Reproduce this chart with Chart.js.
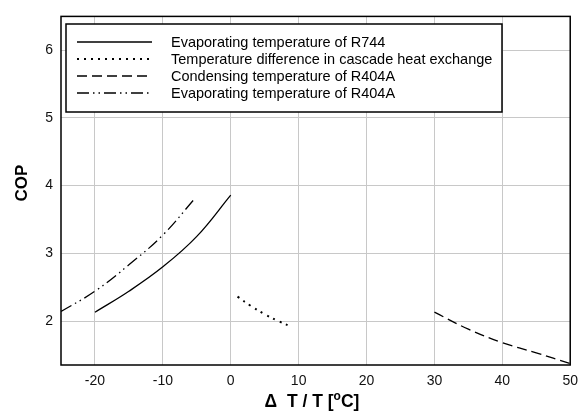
<!DOCTYPE html>
<html>
<head>
<meta charset="utf-8">
<script src="https://cdn.jsdelivr.net/npm/chart.js@4.4.0/dist/chart.umd.min.js"></script>
<style>
  html, body { margin: 0; padding: 0; background: #fff; }
  #wrap { width: 586px; height: 419px; }
</style>
</head>
<body>
<div id="wrap"><canvas id="c" width="586" height="419"></canvas></div>
<script>
// data
const r744EvapX = [-20, -15, -10, -5, 0]
const r744EvapY = [2.13, 2.44, 2.80, 3.25, 3.86]
const cascadeX = [1, 3, 5, 7, 9]
const cascadeY = [2.36, 2.22, 2.10, 2.00, 1.91]
const r404CondX = [30, 35, 40, 45, 50]
const r404CondY = [2.13, 1.88, 1.68, 1.53, 1.37]
const r404EvapX = [-25, -20, -15, -10, -5.2]
const r404EvapY = [2.14, 2.44, 2.83, 3.27, 3.82]

const xTicks = [-20, -10, 0, 10, 20, 30, 40, 50]
const yTicks = [2, 3, 4, 5, 6]

const labels = [
  'Evaporating temperature of R744',
  'Temperature difference in cascade heat exchange',
  'Condensing temperature of R404A',
  'Evaporating temperature of R404A'
]

const FONT = '"Liberation Sans", Arial, sans-serif'

function pts(xs, ys) {
  return xs.map((x, i) => ({ x: x, y: ys[i] }))
}

function ds(label, data, dash, width) {
  return {
    label: label,
    data: data,
    showLine: true,
    borderColor: '#000',
    borderWidth: width,
    borderDash: dash,
    pointRadius: 0,
    tension: 0.4,
    fill: false
  }
}

// legend box and axis titles drawn by hand to keep the boxed layout
const boxPlugin = {
  id: 'boxPlugin',
  afterDraw(chart) {
    const ctx = chart.ctx
    const a = chart.chartArea
    ctx.save()
    ctx.strokeStyle = '#000'
    ctx.lineWidth = 1.5
    ctx.strokeRect(a.left, a.top, a.right - a.left, a.bottom - a.top)

    // legend
    const lx = 66, ly = 24, lw = 436, lh = 88
    ctx.fillStyle = '#fff'
    ctx.fillRect(lx, ly, lw, lh)
    ctx.strokeRect(lx, ly, lw, lh)
    ctx.font = '14.5px ' + FONT
    ctx.textBaseline = 'middle'
    chart.data.datasets.forEach((d, i) => {
      const y = 42 + i * 17
      ctx.beginPath()
      ctx.setLineDash(d.borderDash)
      ctx.lineWidth = d.borderWidth
      ctx.moveTo(77, y)
      ctx.lineTo(152, y)
      ctx.stroke()
      ctx.setLineDash([])
      ctx.fillStyle = '#000'
      ctx.fillText(d.label, 171, y + 1)
    })

    // y title
    ctx.textBaseline = 'alphabetic'
    ctx.font = 'bold 17px ' + FONT
    ctx.textAlign = 'center'
    ctx.save()
    ctx.translate(27, 183)
    ctx.rotate(-Math.PI / 2)
    ctx.fillText('COP', 0, 0)
    ctx.restore()

    // x title with raised o
    const p1 = 'Δ  T / T [', p2 = 'o', p3 = 'C]'
    ctx.textAlign = 'left'
    ctx.font = 'bold 17.5px ' + FONT
    const w1 = ctx.measureText(p1).width
    const w3 = ctx.measureText(p3).width
    ctx.font = 'bold 12px ' + FONT
    const w2 = ctx.measureText(p2).width
    let x = 312 - (w1 + w2 + w3) / 2
    const yb = 407
    ctx.font = 'bold 17.5px ' + FONT
    ctx.fillText(p1, x, yb)
    x += w1
    ctx.font = 'bold 12px ' + FONT
    ctx.fillText(p2, x, yb - 7)
    x += w2
    ctx.font = 'bold 17.5px ' + FONT
    ctx.fillText(p3, x, yb)
    ctx.restore()
  }
}

new Chart(document.getElementById('c'), {
  type: 'scatter',
  data: {
    datasets: [
      ds(labels[0], pts(r744EvapX, r744EvapY), [], 1.3),
      ds(labels[1], pts(cascadeX, cascadeY), [2, 5], 2),
      ds(labels[2], pts(r404CondX, r404CondY), [10, 5], 1.3),
      ds(labels[3], pts(r404EvapX, r404EvapY), [12, 4, 1.5, 4, 1.5, 4], 1.3)
    ]
  },
  options: {
    responsive: false,
    animation: false,
    layout: { padding: { top: 8, right: 15, left: 0, bottom: 0 } },
    plugins: {
      legend: { display: false },
      tooltip: { enabled: false }
    },
    scales: {
      x: {
        type: 'linear',
        min: -25,
        max: 50,
        afterBuildTicks: s => { s.ticks = xTicks.map(v => ({ value: v })) },
        afterFit: s => { s.height = 54 },
        grid: { color: '#c8c8c8', lineWidth: 1, tickLength: 0 },
        border: { display: false },
        ticks: { color: '#111', font: { family: FONT, size: 14 }, padding: 8, maxRotation: 0 }
      },
      y: {
        type: 'linear',
        min: 1.35,
        max: 6.5,
        afterBuildTicks: s => { s.ticks = yTicks.map(v => ({ value: v })) },
        afterFit: s => { s.width = 61 },
        grid: { color: '#c8c8c8', lineWidth: 1, tickLength: 0 },
        border: { display: false },
        ticks: { color: '#111', font: { family: FONT, size: 14 }, padding: 8 }
      }
    }
  },
  plugins: [boxPlugin]
})
</script>
</body>
</html>
